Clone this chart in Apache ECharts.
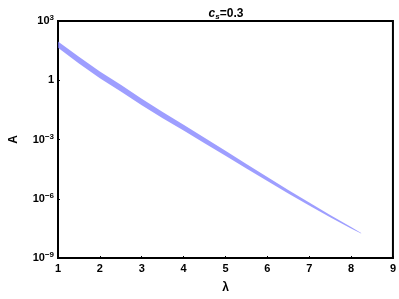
<!DOCTYPE html>
<html>
<head>
<meta charset="utf-8">
<script src="https://cdn.jsdelivr.net/npm/echarts@6/dist/echarts.min.js"></script>
<style>
  html, body { margin: 0; padding: 0; background: #fff; }
  #chart { width: 399px; height: 299px; }
</style>
</head>
<body>
<div id="chart"></div>
<script>
// band of A(λ) for c_s = 0.3
const lambda = [1, 1.5, 2, 2.5, 3, 3.5, 4, 4.5, 5, 5.5, 6, 6.5, 7, 7.5, 8, 8.24];
const upper = [91.2, 15.5, 2.79, 0.589, 0.116, 0.0245, 5.62e-3, 1.23e-3, 2.66e-4, 5.82e-5, 1.26e-5, 2.75e-6, 6.38e-7, 1.5e-7, 3.67e-8, 1.82e-8];
const lower = [43.7, 7.08, 1.245, 0.269, 0.0543, 0.01175, 2.82e-3, 6.46e-4, 1.5e-4, 3.43e-5, 7.94e-6, 1.82e-6, 4.52e-7, 1.16e-7, 3.13e-8, 1.74e-8];
const xTicks = [1, 2, 3, 4, 5, 6, 7, 8, 9];

const font = 'Liberation Sans, Arial, sans-serif';
const chart = echarts.init(document.getElementById('chart'));

const option = {
  animation: false,
  title: {
    text: '{c|c}{s|s}{n|=0.3}',
    left: 221, top: 2, textAlign: 'center',
    textStyle: {
      rich: {
        c: { fontFamily: font, fontWeight: 'bold', fontStyle: 'italic', fontSize: 12, color: '#000' },
        s: { fontFamily: font, fontWeight: 'bold', fontStyle: 'italic', fontSize: 8, color: '#000', verticalAlign: 'bottom', padding: [6, 0, 0, 0] },
        n: { fontFamily: font, fontWeight: 'bold', fontSize: 12, color: '#000' }
      }
    }
  },
  grid: {
    left: 48, right: 4, top: 21, bottom: 38,
    show: true, borderColor: '#000', borderWidth: 2, backgroundColor: '#fff'
  },
  xAxis: {
    type: 'value', min: 1, max: 9, interval: 1,
    name: 'λ', nameLocation: 'middle', nameGap: 24,
    nameTextStyle: { fontFamily: font, fontWeight: 'bold', fontSize: 12, color: '#000' },
    axisLine: { lineStyle: { color: '#000', width: 2 } },
    axisTick: { inside: true, length: 2, lineStyle: { color: '#000' } },
    axisLabel: { fontFamily: font, fontWeight: 'bold', fontSize: 11, color: '#000', margin: 5,
      customValues: xTicks },
    splitLine: { show: false }
  },
  yAxis: {
    type: 'log', logBase: 10, min: 1e-9, max: 1e3, interval: 3,
    name: 'A', nameLocation: 'middle', nameGap: 38,
    nameTextStyle: { fontFamily: font, fontWeight: 'bold', fontSize: 12, color: '#000' },
    axisLine: { show: true, lineStyle: { color: '#000', width: 2 } },
    axisTick: { inside: true, length: 2, lineStyle: { color: '#000' } },
    minorTick: { show: false },
    axisLabel: {
      margin: 4,
      formatter: function (v) {
        const e = Math.round(Math.log10(v));
        if (e === 0) return '{b|1}';
        return '{b|10}{s|' + (e < 0 ? '\u2212' + (-e) : e) + '}';
      },
      rich: {
        b: { fontFamily: font, fontWeight: 'bold', fontSize: 11, color: '#000' },
        s: { fontFamily: font, fontWeight: 'bold', fontSize: 8, color: '#000', verticalAlign: 'top', padding: [0, 0, 6, 0] }
      }
    },
    splitLine: { show: false }
  },
  series: [{
    type: 'custom',
    coordinateSystem: 'cartesian2d',
    data: lambda.map((l, i) => [l, upper[i], lower[i]]),
    encode: { x: 0, y: [1, 2] },
    renderItem: function (params, api) {
      if (params.dataIndex !== 0) return null;
      const pts = [];
      for (let i = 0; i < lambda.length; i++) pts.push(api.coord([lambda[i], upper[i]]));
      for (let i = lambda.length - 1; i >= 0; i--) pts.push(api.coord([lambda[i], lower[i]]));
      return {
        type: 'polygon',
        shape: { points: pts, smooth: 0 },
        style: { fill: 'rgba(120,120,255,0.72)', stroke: 'none' }
      };
    },
    z: 1
  }]
};
chart.setOption(option);
</script>
</body>
</html>
